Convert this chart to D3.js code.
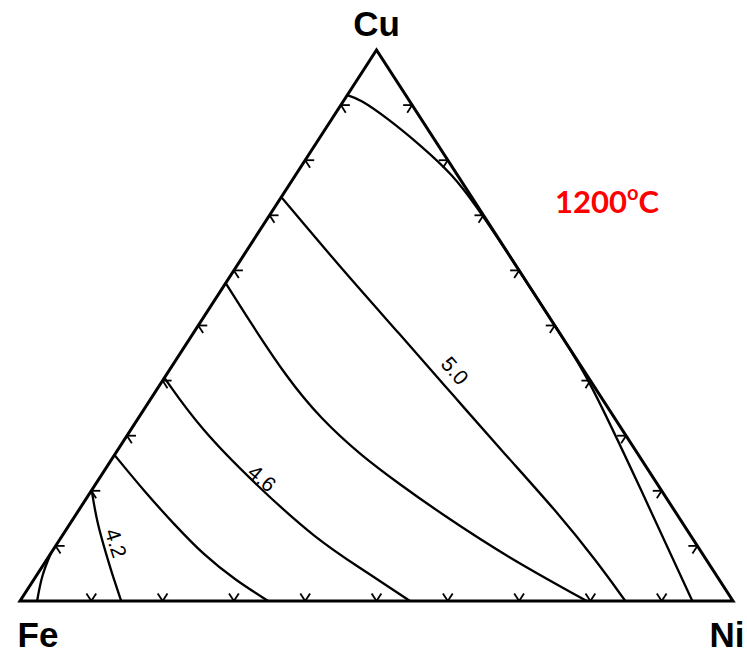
<!DOCTYPE html>
<html>
<head>
<meta charset="utf-8">
<script src="https://cdn.jsdelivr.net/npm/d3@7"></script>
<style>
  body { margin: 0; background: #fff; }
  svg { display: block; }
</style>
</head>
<body>
<div id="chart"></div>
<script>
// corner labels
const corners = ["Fe", "Ni", "Cu"];

// tick fractions along each side
const tickFractions = [0.1, 0.2, 0.3, 0.4, 0.5, 0.6, 0.7, 0.8, 0.9];

// iso-lines, points as [Ni fraction, Cu fraction]
const curveTop = [[0, 0.918], [0.021, 0.911], [0.076, 0.877], [0.147, 0.828], [0.221, 0.773],
  [0.279, 0.719], [0.36, 0.64], [0.44, 0.56], [0.52, 0.48], [0.595, 0.405], [0.770, 0.202], [0.943, 0]];
const curve50 = [[0, 0.733], [0.146, 0.606], [0.292, 0.483], [0.420, 0.374], [0.551, 0.263],
  [0.672, 0.162], [0.774, 0.071], [0.849, 0]];
const curveMid = [[0, 0.577], [0.070, 0.506], [0.172, 0.405], [0.255, 0.332], [0.345, 0.265],
  [0.428, 0.211], [0.509, 0.160], [0.643, 0.080], [0.795, 0]];
const curve46 = [[0, 0.405], [0.095, 0.314], [0.225, 0.211], [0.361, 0.111], [0.447, 0.060], [0.547, 0]];
const curveLow = [[0, 0.265], [0.076, 0.198], [0.148, 0.138], [0.218, 0.082], [0.283, 0.038], [0.348, 0]];
const curve42 = [[0, 0.201], [0.037, 0.142], [0.082, 0.080], [0.113, 0.038], [0.142, 0]];
const curveFe = [[0, 0.087], [0.007, 0.047], [0.024, 0]];

const curves = [curveTop, curve50, curveMid, curve46, curveLow, curve42, curveFe];

// contour labels: text, Ni, Cu, angle
const labelText = ["5.0", "4.6", "4.2"];
const labelNi = [0.401, 0.228, 0.082];
const labelCu = [0.418, 0.223, 0.105];
const labelAngle = [49, 40, 72];

const width = 747, height = 655;

const svg = d3.select("#chart")
  .append("svg")
  .attr("width", width)
  .attr("height", height);

const x = d3.scaleLinear().domain([0, 1]).range([20, 733]);
const y = d3.scaleLinear().domain([0, 1]).range([601, 50]);

// ternary (Ni, Cu) -> pixel
const pt = (ni, cu) => [x(ni + cu / 2), y(cu)];

const line = d3.line()
  .x(d => pt(d[0], d[1])[0])
  .y(d => pt(d[0], d[1])[1])
  .curve(d3.curveBasis);

// triangle
const fe = pt(0, 0), ni = pt(1, 0), cu = pt(0, 1);
svg.append("path")
  .attr("d", `M${fe}L${ni}L${cu}Z`)
  .attr("fill", "none")
  .attr("stroke", "#000")
  .attr("stroke-width", 3)
  .attr("stroke-linejoin", "miter");

// ticks: two short strokes parallel to the other two sides
function unit(a, b) {
  const dx = b[0] - a[0], dy = b[1] - a[1], l = Math.hypot(dx, dy);
  return [dx / l, dy / l];
}
const tl = 9;
const sides = [
  { p: f => pt(f, 0), dirs: [unit(fe, cu), unit(ni, cu)] },
  { p: f => pt(0, f), dirs: [[1, 0], unit(cu, ni)] },
  { p: f => pt(1 - f, f), dirs: [[-1, 0], unit(cu, fe)] }
];
const ticks = svg.append("g")
  .attr("stroke", "#000")
  .attr("stroke-width", 1.8)
  .attr("fill", "none");
sides.forEach(s => {
  tickFractions.forEach(f => {
    const p = s.p(f);
    s.dirs.forEach(d => {
      ticks.append("line")
        .attr("x1", p[0]).attr("y1", p[1])
        .attr("x2", p[0] + d[0] * tl).attr("y2", p[1] + d[1] * tl);
    });
  });
});

// curves
svg.append("g")
  .selectAll("path")
  .data(curves)
  .enter().append("path")
  .attr("d", line)
  .attr("fill", "none")
  .attr("stroke", "#000")
  .attr("stroke-width", 2.3);

// contour labels
svg.append("g")
  .selectAll("text")
  .data(labelText)
  .enter().append("text")
  .attr("transform", (d, i) => {
    const p = pt(labelNi[i], labelCu[i]);
    return `translate(${p[0]},${p[1]}) rotate(${labelAngle[i]})`;
  })
  .attr("text-anchor", "middle")
  .attr("dy", "0.35em")
  .attr("font-family", "Liberation Sans, Arial, sans-serif")
  .attr("font-size", 21)
  .attr("fill", "#000")
  .text(d => d);

// corner names
const cornerPos = [[fe[0] + 18, 647], [ni[0] - 6, 647], [cu[0], 36]];
svg.append("g")
  .selectAll("text")
  .data(corners)
  .enter().append("text")
  .attr("x", (d, i) => cornerPos[i][0])
  .attr("y", (d, i) => cornerPos[i][1])
  .attr("text-anchor", "middle")
  .attr("font-family", "Liberation Sans, Arial, sans-serif")
  .attr("font-weight", "bold")
  .attr("font-size", 35)
  .attr("fill", "#000")
  .text(d => d);

// temperature
const temp = svg.append("text")
  .attr("x", 555)
  .attr("y", 213)
  .attr("font-family", "Lato, sans-serif")
  .attr("font-weight", "bold")
  .attr("font-size", 31)
  .attr("fill", "#ff0000");
temp.append("tspan").text("1200");
temp.append("tspan").attr("font-size", 20).attr("dy", -13).text("o");
temp.append("tspan").attr("dy", 13).text("C");
</script>
</body>
</html>
